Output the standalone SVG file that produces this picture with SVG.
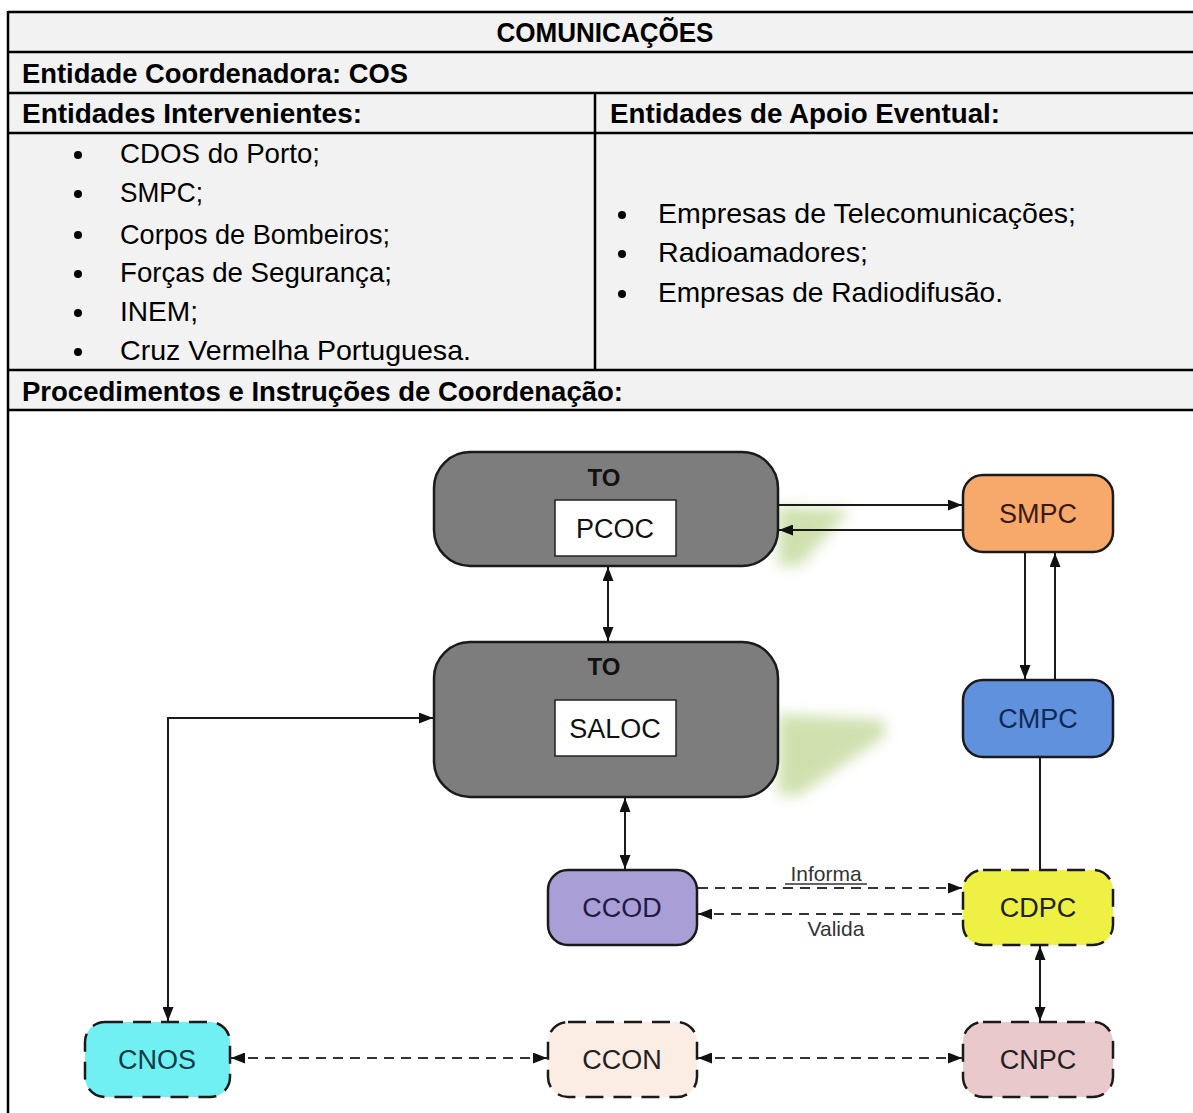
<svg xmlns="http://www.w3.org/2000/svg" width="1193" height="1113" viewBox="0 0 1193 1113">
  <style>
    .cell { fill: #f2f2f2; }
    .grid { stroke: #000; stroke-width: 2.5; fill: none; }
    .hd { font-family: "Liberation Sans", Arial, sans-serif; font-weight: bold; font-size: 27px; fill: #000; }
    .li { font-family: "Liberation Sans", Arial, sans-serif; font-size: 28px; fill: #000; }
    .lbl { font-family: "Liberation Sans", Arial, sans-serif; font-size: 27px; text-anchor: middle; }
    .to { font-family: "Liberation Sans", Arial, sans-serif; font-weight: bold; font-size: 24px; text-anchor: middle; fill: #111; }
    .edge { stroke: #1a1a1a; stroke-width: 2; fill: none; }
    .dash { stroke-dasharray: 10 7; stroke: #333; }
    .node { stroke: #1a1a1a; stroke-width: 2.5; }
    .dnode { stroke: #1a1a1a; stroke-width: 2.5; stroke-dasharray: 18 10; }
    .small { font-family: "Liberation Sans", Arial, sans-serif; font-size: 21px; fill: #333; text-anchor: middle; }
  </style>
  <defs>
    <marker id="ah" viewBox="0 0 14 11" refX="14" refY="5.5" markerWidth="14" markerHeight="11" markerUnits="userSpaceOnUse" orient="auto-start-reverse">
      <path d="M0,0 L14,5.5 L0,11 z" fill="#111"/>
    </marker>
    <filter id="soft" x="-40%" y="-40%" width="180%" height="180%">
      <feGaussianBlur stdDeviation="7"/>
    </filter>
  </defs>

  <rect width="1193" height="1113" fill="#fff"/>

  <!-- table cells -->
  <rect class="cell" x="8" y="12" width="1190" height="398"/>
  <g class="grid">
    <line x1="8" y1="12" x2="1193" y2="12"/>
    <line x1="8" y1="52" x2="1193" y2="52"/>
    <line x1="8" y1="93" x2="1193" y2="93"/>
    <line x1="8" y1="133" x2="1193" y2="133"/>
    <line x1="8" y1="370" x2="1193" y2="370"/>
    <line x1="8" y1="410" x2="1193" y2="410"/>
    <line x1="8" y1="11" x2="8" y2="1113"/>
    <line x1="595" y1="93" x2="595" y2="370"/>
  </g>

  <!-- table text -->
  <text class="hd" x="605" y="42" text-anchor="middle" textLength="217" lengthAdjust="spacingAndGlyphs">COMUNICAÇÕES</text>
  <text class="hd" x="22" y="83" textLength="386" lengthAdjust="spacingAndGlyphs">Entidade Coordenadora: COS</text>
  <text class="hd" x="22" y="123" textLength="340" lengthAdjust="spacingAndGlyphs">Entidades Intervenientes:</text>
  <text class="hd" x="610" y="123" textLength="390" lengthAdjust="spacingAndGlyphs">Entidades de Apoio Eventual:</text>
  <text class="hd" x="22" y="401" textLength="601" lengthAdjust="spacingAndGlyphs">Procedimentos e Instruções de Coordenação:</text>

  <g fill="#000">
    <circle cx="78" cy="155" r="4"/>
    <circle cx="78" cy="194" r="4"/>
    <circle cx="78" cy="235" r="4"/>
    <circle cx="78" cy="274" r="4"/>
    <circle cx="78" cy="313" r="4"/>
    <circle cx="78" cy="352" r="4"/>
    <circle cx="622" cy="215" r="4"/>
    <circle cx="622" cy="254" r="4"/>
    <circle cx="622" cy="294" r="4"/>
  </g>
  <text class="li" x="120" y="163" textLength="200" lengthAdjust="spacingAndGlyphs">CDOS do Porto;</text>
  <text class="li" x="120" y="202" textLength="83" lengthAdjust="spacingAndGlyphs">SMPC;</text>
  <text class="li" x="120" y="244" textLength="270" lengthAdjust="spacingAndGlyphs">Corpos de Bombeiros;</text>
  <text class="li" x="120" y="282" textLength="272" lengthAdjust="spacingAndGlyphs">Forças de Segurança;</text>
  <text class="li" x="120" y="321" textLength="78" lengthAdjust="spacingAndGlyphs">INEM;</text>
  <text class="li" x="120" y="360" textLength="351" lengthAdjust="spacingAndGlyphs">Cruz Vermelha Portuguesa.</text>
  <text class="li" x="658" y="223" textLength="418" lengthAdjust="spacingAndGlyphs">Empresas de Telecomunicações;</text>
  <text class="li" x="658" y="262" textLength="210" lengthAdjust="spacingAndGlyphs">Radioamadores;</text>
  <text class="li" x="658" y="302" textLength="345" lengthAdjust="spacingAndGlyphs">Empresas de Radiodifusão.</text>

  <!-- soft green shading beside the TO blocks -->
  <g fill="#bcd48e" opacity="0.7" filter="url(#soft)">
    <polygon points="778,506 850,510 800,566 778,566"/>
    <polygon points="778,714 885,720 885,736 800,795 778,795"/>
  </g>

  <!-- connectors -->
  <g id="connectors">
    <line class="edge" x1="779" y1="505" x2="962" y2="505" marker-end="url(#ah)"/>
    <line class="edge" x1="962" y1="530" x2="779" y2="530" marker-end="url(#ah)"/>
    <line class="edge" x1="608" y1="567" x2="608" y2="641" marker-start="url(#ah)" marker-end="url(#ah)"/>
    <line class="edge" x1="1025" y1="553" x2="1025" y2="679" marker-end="url(#ah)"/>
    <line class="edge" x1="1055" y1="679" x2="1055" y2="553" marker-end="url(#ah)"/>
    <line class="edge" x1="1040" y1="758" x2="1040" y2="869"/>
    <line class="edge" x1="625" y1="798" x2="625" y2="869" marker-start="url(#ah)" marker-end="url(#ah)"/>
    <line class="edge dash" x1="698" y1="888" x2="962" y2="888" marker-end="url(#ah)"/>
    <line class="edge dash" x1="962" y1="914" x2="698" y2="914" marker-end="url(#ah)"/>
    <line class="edge" x1="1040" y1="946" x2="1040" y2="1021" marker-start="url(#ah)" marker-end="url(#ah)"/>
    <line class="edge dash" x1="231" y1="1058" x2="547" y2="1058" marker-start="url(#ah)" marker-end="url(#ah)"/>
    <line class="edge dash" x1="698" y1="1058" x2="962" y2="1058" marker-start="url(#ah)" marker-end="url(#ah)"/>
    <polyline class="edge" points="168,1021 168,718 433,718" marker-start="url(#ah)" marker-end="url(#ah)"/>
    <text class="small" x="826" y="881">Informa</text>
    <line x1="785" y1="884" x2="867" y2="884" stroke="#333" stroke-width="1.5"/>
    <text class="small" x="836" y="936">Valida</text>
  </g>

  <!-- nodes -->
  <g id="node-to-pcoc">
    <rect class="node" x="434" y="452" width="344" height="114" rx="36" fill="#7d7d7d"/>
    <text class="to" x="604" y="486">TO</text>
    <rect x="555" y="500" width="121" height="56" fill="#fff" stroke="#222" stroke-width="1.5"/>
    <text class="lbl" x="615" y="538" fill="#111">PCOC</text>
  </g>
  <g id="node-to-saloc">
    <rect class="node" x="434" y="642" width="344" height="155" rx="36" fill="#7d7d7d"/>
    <text class="to" x="604" y="675">TO</text>
    <rect x="555" y="700" width="121" height="56" fill="#fff" stroke="#222" stroke-width="1.5"/>
    <text class="lbl" x="615" y="738" fill="#111">SALOC</text>
  </g>
  <g id="node-smpc">
    <rect class="node" x="963" y="475" width="150" height="77" rx="20" fill="#f6a96b" stroke="#4a1a10"/>
    <text class="lbl" x="1038" y="523" fill="#3a1a10">SMPC</text>
  </g>
  <g id="node-cmpc">
    <rect class="node" x="963" y="680" width="150" height="77" rx="20" fill="#5f91dd"/>
    <text class="lbl" x="1038" y="728" fill="#0f2a55">CMPC</text>
  </g>
  <g id="node-ccod">
    <rect class="node" x="548" y="870" width="149" height="75" rx="20" fill="#a99fd6"/>
    <text class="lbl" x="622" y="917" fill="#221a44">CCOD</text>
  </g>
  <g id="node-cdpc">
    <rect class="dnode" x="963" y="870" width="150" height="75" rx="20" fill="#eef044"/>
    <text class="lbl" x="1038" y="917" fill="#222">CDPC</text>
  </g>
  <g id="node-cnos">
    <rect class="dnode" x="85" y="1022" width="145" height="75" rx="20" fill="#70f0f2"/>
    <text class="lbl" x="157" y="1069" fill="#0a3a44">CNOS</text>
  </g>
  <g id="node-ccon">
    <rect class="dnode" x="548" y="1022" width="149" height="75" rx="20" fill="#fbede4"/>
    <text class="lbl" x="622" y="1069" fill="#222">CCON</text>
  </g>
  <g id="node-cnpc">
    <rect class="dnode" x="963" y="1022" width="150" height="75" rx="20" fill="#eac9cd"/>
    <text class="lbl" x="1038" y="1069" fill="#222">CNPC</text>
  </g>
</svg>
